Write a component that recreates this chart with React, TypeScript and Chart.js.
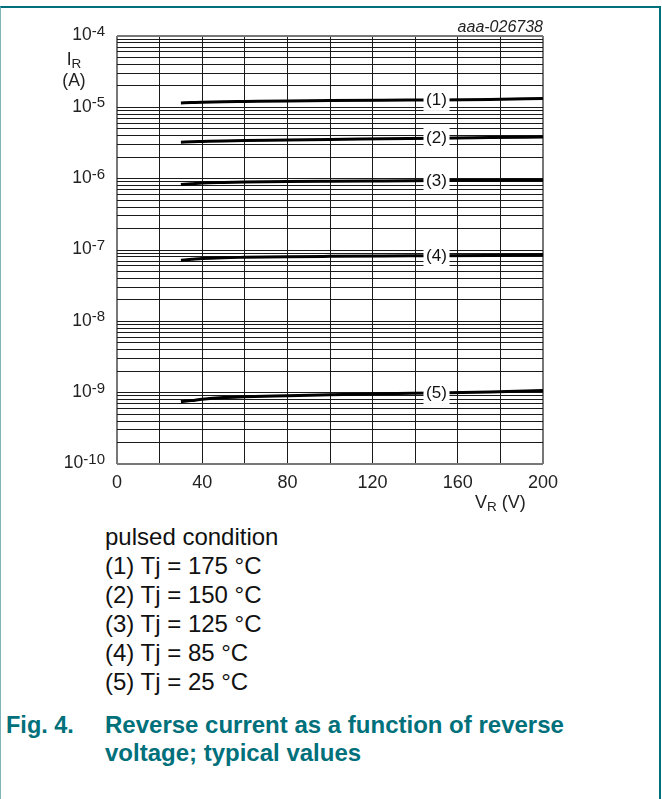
import React, { useEffect, useRef } from 'react';
import { Chart, registerables } from 'chart.js';

Chart.register(...registerables);

const FONT = '"Liberation Sans", Arial, Helvetica, sans-serif';
const TEAL = '#00707b';

// reverse voltage V_R (V)
const xValues = [30, 35, 40, 50, 60, 80, 100, 125, 150, 175, 200];
// reverse current I_R (A)
const ir175 = [1.15e-5, 1.165e-5, 1.18e-5, 1.2e-5, 1.21e-5, 1.23e-5, 1.245e-5, 1.26e-5, 1.27e-5, 1.29e-5, 1.33e-5];
const ir150 = [3.25e-6, 3.29e-6, 3.32e-6, 3.38e-6, 3.42e-6, 3.48e-6, 3.55e-6, 3.62e-6, 3.7e-6, 3.77e-6, 3.84e-6];
const ir125 = [8.3e-7, 8.5e-7, 8.7e-7, 8.85e-7, 8.95e-7, 9.1e-7, 9.2e-7, 9.3e-7, 9.4e-7, 9.5e-7, 9.6e-7];
const ir85 = [7.2e-8, 7.4e-8, 7.6e-8, 7.8e-8, 7.9e-8, 8.05e-8, 8.15e-8, 8.25e-8, 8.3e-8, 8.4e-8, 8.55e-8];
const ir25 = [7.5e-10, 7.75e-10, 8.1e-10, 8.55e-10, 8.75e-10, 9.05e-10, 9.35e-10, 9.65e-10, 9.9e-10, 1.02e-9, 1.07e-9];

const curveLabels = ['(1)', '(2)', '(3)', '(4)', '(5)'];
const labelAtX = 150;

const yTickExponents = [-4, -5, -6, -7, -8, -9, -10];
const xTickLabels = [0, 40, 80, 120, 160, 200];
const xGridStep = 20;

const legendLines = [
  'pulsed condition',
  '(1) Tj = 175 °C',
  '(2) Tj = 150 °C',
  '(3) Tj = 125 °C',
  '(4) Tj = 85 °C',
  '(5) Tj = 25 °C',
];

const overlayPlugin = {
  id: 'overlayLabels',
  afterDatasetsDraw(chart: any) {
    const ctx = chart.ctx as CanvasRenderingContext2D;
    const xs = chart.scales.x;
    const ys = chart.scales.y;
    ctx.save();
    // curve labels with white background
    ctx.font = `17px ${FONT}`;
    ctx.textAlign = 'center';
    ctx.textBaseline = 'middle';
    const idx = xValues.indexOf(labelAtX);
    chart.data.datasets.forEach((ds: any, i: number) => {
      const p = ds.data[idx];
      const px = xs.getPixelForValue(p.x);
      const py = ys.getPixelForValue(p.y);
      ctx.fillStyle = '#ffffff';
      ctx.fillRect(px - 13, py - 11, 26, 22);
      ctx.fillStyle = '#111111';
      ctx.fillText(curveLabels[i], px, py + 0.5);
    });
    // y tick labels with superscript exponent
    ctx.fillStyle = '#222222';
    ctx.textAlign = 'right';
    yTickExponents.forEach((e) => {
      const y = ys.getPixelForValue(Math.pow(10, e));
      const expText = String(e);
      ctx.font = `15px ${FONT}`;
      const w = ctx.measureText(expText).width;
      ctx.fillText(expText, 105, y - 4);
      ctx.font = `17.5px ${FONT}`;
      ctx.fillText('10', 105 - w, y - 0.5);
    });
    ctx.restore();
  },
};

export default function App() {
  const ref = useRef<HTMLCanvasElement>(null);

  useEffect(() => {
    const series = [ir175, ir150, ir125, ir85, ir25];
    const yGrid: number[] = [];
    for (let e = -10; e < -4; e++) {
      for (let m = 1; m < 10; m++) yGrid.push(Number((m * Math.pow(10, e)).toPrecision(3)));
    }
    yGrid.push(1e-4);

    const edgeX = (c: any) => c.tick && (c.tick.value === 0 || c.tick.value === 200);
    const edgeY = (c: any) => c.tick && (Math.abs(Math.log10(c.tick.value) + 10) < 1e-6 || Math.abs(Math.log10(c.tick.value) + 4) < 1e-6);

    const chart = new Chart(ref.current as HTMLCanvasElement, {
      type: 'line',
      data: {
        datasets: series.map((s, i) => ({
          label: curveLabels[i],
          data: xValues.map((x, j) => ({ x, y: s[j] })),
          borderColor: '#000000',
          borderWidth: 3,
          pointRadius: 0,
          cubicInterpolationMode: 'monotone' as const,
          fill: false,
        })),
      },
      options: {
        responsive: false,
        animation: false,
        devicePixelRatio: 1,
        events: [],
        layout: { padding: { left: 0, top: 36, right: 119, bottom: 0 } },
        plugins: { legend: { display: false }, tooltip: { enabled: false } },
        scales: {
          x: {
            type: 'linear',
            min: 0,
            max: 200,
            afterFit: (s: any) => { s.height = 56; },
            ticks: {
              stepSize: xGridStep,
              autoSkip: false,
              maxRotation: 0,
              minRotation: 0,
              padding: 8,
              color: '#222222',
              font: { family: FONT, size: 18 },
              callback: (v: any) => (xTickLabels.includes(Number(v)) ? String(v) : ''),
            },
            grid: {
              drawTicks: false,
              color: (c: any) => (edgeX(c) ? '#777777' : '#1a1a1a'),
              lineWidth: (c: any) => (edgeX(c) ? 2 : 1),
            },
            border: { display: false },
          },
          y: {
            type: 'logarithmic',
            min: 1e-10,
            max: 1e-4,
            afterFit: (s: any) => { s.width = 117; },
            afterBuildTicks: (s: any) => { s.ticks = yGrid.map((v) => ({ value: v })); },
            ticks: { display: false },
            grid: {
              drawTicks: false,
              color: (c: any) => (edgeY(c) ? '#777777' : '#1a1a1a'),
              lineWidth: (c: any) => (edgeY(c) ? 2 : 1),
            },
            border: { display: false },
          },
        },
      },
      plugins: [overlayPlugin],
    } as any);
    return () => chart.destroy();
  }, []);

  return (
    <div style={{ position: 'absolute', left: 0, top: 0, width: 662, height: 799, overflow: 'hidden', background: '#fff', fontFamily: FONT, color: '#111' }}>
      <div style={{ position: 'absolute', left: 0, top: 6, width: 658, height: 791, borderTop: `2px solid ${TEAL}`, borderRight: `2px solid ${TEAL}`, borderLeft: '1px solid #7fb3ba' }} />
      <canvas ref={ref} width={662} height={520} style={{ position: 'absolute', left: 0, top: 0, width: 662, height: 520 }} />
      <div style={{ position: 'absolute', left: 54, top: 51, width: 40, textAlign: 'center', fontSize: 17.5, lineHeight: '17px', color: '#222' }}>
        I<span style={{ fontSize: 13.5, position: 'relative', top: 3 }}>R</span>
      </div>
      <div style={{ position: 'absolute', left: 54, top: 72, width: 40, textAlign: 'center', fontSize: 17.5, lineHeight: '17px', color: '#222' }}>(A)</div>
      <div style={{ position: 'absolute', left: 380, top: 18.5, width: 163, textAlign: 'right', fontSize: 16, lineHeight: '16px', fontStyle: 'italic', color: '#222' }}>aaa-026738</div>
      <div style={{ position: 'absolute', left: 475, top: 493, fontSize: 18, lineHeight: '18px', whiteSpace: 'nowrap', color: '#222' }}>
        V<span style={{ fontSize: 13.5, position: 'relative', top: 3 }}>R</span> (V)
      </div>
      <div style={{ position: 'absolute', left: 105, top: 522.2, fontSize: 24, lineHeight: '29px', whiteSpace: 'nowrap', color: '#111' }}>
        {legendLines.map((t) => (<div key={t}>{t}</div>))}
      </div>
      <div style={{ position: 'absolute', left: 6, top: 710.7, fontSize: 23.5, lineHeight: '28px', fontWeight: 'bold', color: TEAL, whiteSpace: 'nowrap' }}>Fig. 4.</div>
      <div style={{ position: 'absolute', left: 105, top: 710.7, width: 530, fontSize: 24, lineHeight: '28px', fontWeight: 'bold', color: TEAL, whiteSpace: 'nowrap' }}>
        Reverse current as a function of reverse<br />voltage; typical values
      </div>
    </div>
  );
}
